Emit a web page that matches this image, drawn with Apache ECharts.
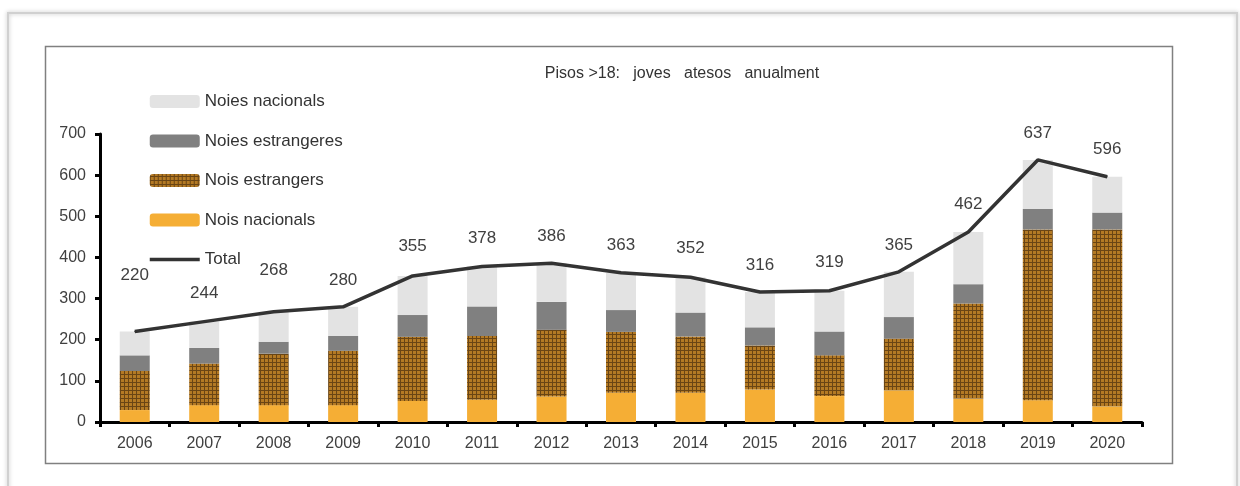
<!DOCTYPE html>
<html>
<head>
<meta charset="utf-8">
<script src="https://cdn.jsdelivr.net/npm/echarts@6/dist/echarts.min.js"></script>
<style>
  html, body { margin: 0; padding: 0; background: #fff; }
  #chart { width: 1240px; height: 486px; }
</style>
</head>
<body>
<div id="chart"></div>
<script>
// dades llegides del gràfic
const anys = ['2006','2007','2008','2009','2010','2011','2012','2013','2014','2015','2016','2017','2018','2019','2020'];
const noisNacionals   = [29, 41, 41, 41, 51, 54, 62, 71, 71, 79, 63, 77, 57, 53, 38];
const noisEstrangers  = [95, 101, 125, 132, 156, 155, 162, 148, 137, 107, 99, 126, 231, 415, 430];
const noiesEstrangeres = [38, 38, 29, 36, 53, 72, 68, 53, 58, 44, 58, 52, 47, 50, 41];
const noiesNacionals  = [58, 64, 73, 71, 95, 97, 94, 91, 86, 86, 99, 110, 127, 119, 87];
const total           = [220, 244, 268, 280, 355, 378, 386, 363, 352, 316, 319, 365, 462, 637, 596];

// distància de cada etiqueta sobre la línia (no és dada)
const labelDist = [47, 19, 32, 17, 21, 19, 18, 18, 20, 18, 19, 18, 19, 18, 18];

// textura marró dels nois estrangers
function brownPattern() {
  const c = document.createElement('canvas');
  c.width = 4; c.height = 4;
  const ctx = c.getContext('2d');
  ctx.fillStyle = '#b47a24';
  ctx.fillRect(0, 0, 4, 4);
  ctx.fillStyle = '#6a4514';
  ctx.fillRect(0, 0, 1, 4);
  ctx.fillRect(0, 2, 4, 1);
  return c;
}

const chart = echarts.init(document.getElementById('chart'));
const txt = '#404040';
const font = 'Liberation Sans, Arial, sans-serif';

const option = {
  animation: false,
  textStyle: { fontFamily: font },
  title: {
    text: 'Pisos >18:   joves   atesos   anualment',
    left: 677, textAlign: 'center', top: 61,
    textStyle: { fontSize: 16, fontWeight: 'normal', color: '#333' }
  },
  legend: {
    orient: 'vertical',
    left: 143, top: 88,
    itemWidth: 50, itemHeight: 13, itemGap: 22.5,
    data: ['Noies nacionals', 'Noies estrangeres', 'Nois estrangers', 'Nois nacionals',
      { name: 'Total', itemStyle: { opacity: 0 }, lineStyle: { width: 3.5 } }],
    textStyle: { fontSize: 17, color: '#333', fontFamily: font }
  },
  grid: { left: 100, right: 98, top: 134, bottom: 64 },
  xAxis: {
    type: 'category',
    data: anys,
    axisLine: { lineStyle: { color: '#000', width: 3 } },
    axisTick: { show: true, length: 5, lineStyle: { color: '#000', width: 3 } },
    axisLabel: { color: txt, fontSize: 16, margin: 14 }
  },
  yAxis: {
    type: 'value',
    min: 0, max: 700, interval: 100,
    axisLine: { show: true, lineStyle: { color: '#000', width: 3 } },
    axisTick: { show: true, length: 5, lineStyle: { color: '#000', width: 3 } },
    splitLine: { show: false },
    axisLabel: { color: txt, fontSize: 16, margin: 14 }
  },
  series: [
    {
      name: 'Nois nacionals', type: 'bar', stack: 't', barWidth: 30,
      itemStyle: { color: '#f5ae35' }, data: noisNacionals
    },
    {
      name: 'Nois estrangers', type: 'bar', stack: 't', barWidth: 30,
      itemStyle: { color: { image: brownPattern(), repeat: 'repeat' } }, data: noisEstrangers
    },
    {
      name: 'Noies estrangeres', type: 'bar', stack: 't', barWidth: 30,
      itemStyle: { color: '#808080' }, data: noiesEstrangeres
    },
    {
      name: 'Noies nacionals', type: 'bar', stack: 't', barWidth: 30,
      itemStyle: { color: '#e3e3e3' }, data: noiesNacionals
    },
    {
      name: 'Total', type: 'line', symbol: 'circle', symbolSize: 1, showSymbol: true, z: 5,
      lineStyle: { color: '#333', width: 3.5 },
      itemStyle: { color: '#333' },
      label: { show: true, position: 'top', fontSize: 17, color: txt },
      data: total.map((v, i) => ({ value: v, label: { distance: labelDist[i] } }))
    }
  ],
  graphic: [
    {
      type: 'rect', shape: { x: 8, y: 13, width: 1229, height: 480 },
      style: { fill: 'none', stroke: '#d0d0d0', lineWidth: 2, shadowBlur: 4, shadowColor: 'rgba(0,0,0,0.25)' },
      silent: true, z: -10
    },
    {
      type: 'rect', shape: { x: 45.5, y: 46.5, width: 1127, height: 417 },
      style: { fill: 'none', stroke: '#808080', lineWidth: 1.5 },
      silent: true, z: -9
    }
  ]
};

chart.setOption(option);
</script>
</body>
</html>
